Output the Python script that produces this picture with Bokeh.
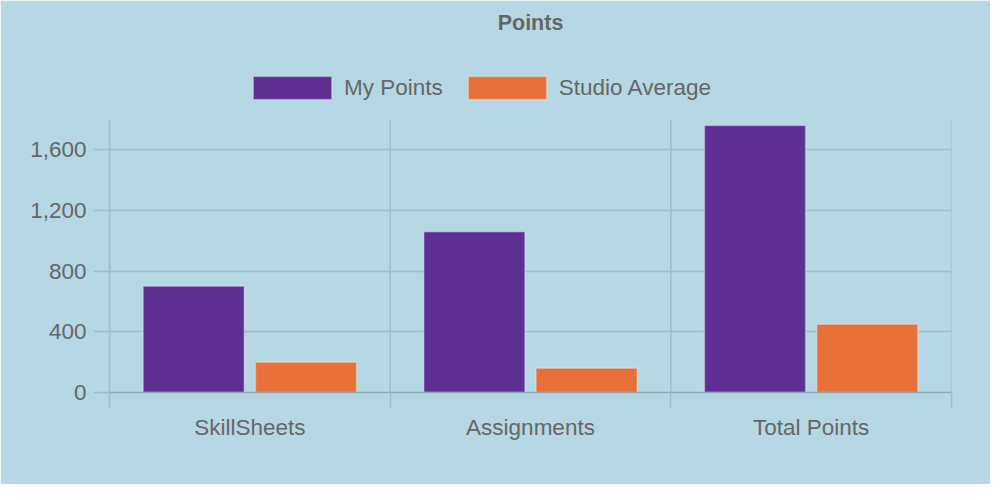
from bokeh.plotting import figure
from bokeh.models import (Range1d, FixedTicker, NumeralTickFormatter, Legend, LegendItem,
                          ColumnDataSource)
from bokeh.transform import dodge
from bokeh.embed import file_html
from bokeh.resources import INLINE

# ---- data ----
categories = ["SkillSheets", "Assignments", "Total Points"]
my_points = [700, 1060, 1760]
studio_average = [200, 160, 450]
y_ticks = [0, 400, 800, 1200, 1600]
y_max = 1800

# ---- style ----
BG = "#b5d8e4"
GRID = "#9fbcc7"
ZERO = "#8fa9b3"
TEXT = "#666666"
PURPLE = "#5e2f93"
ORANGE = "#e8703a"
FONT = "Liberation Sans"

W, H = 990, 484
FRAME_TOP = 39          # frame extends up to hold the legend
DATA_TOP = 119          # pixel row where y_max sits
FRAME_BOTTOM = 392
BORDER_LEFT, BORDER_RIGHT = 109, 39

y_top = y_max * (FRAME_BOTTOM - FRAME_TOP) / (FRAME_BOTTOM - DATA_TOP)

centers = [i + 0.5 for i in range(len(categories))]
bounds = [i for i in range(len(categories) + 1)]

src = ColumnDataSource(dict(x=centers, mine=my_points, avg=studio_average))
vsrc = ColumnDataSource(dict(x=bounds, y0=[0] * len(bounds), y1=[y_max] * len(bounds)))

p = figure(width=W, height=H, output_backend="svg", toolbar_location=None,
           x_range=Range1d(0, len(categories)), y_range=Range1d(0, y_top),
           min_border_left=BORDER_LEFT, min_border_right=BORDER_RIGHT,
           min_border_top=FRAME_TOP, min_border_bottom=H - FRAME_BOTTOM)
p.background_fill_color = BG
p.border_fill_color = BG
p.outline_line_color = BG
p.outline_line_width = 1

# vertical category-boundary grid lines, only over the data area
p.segment(x0="x", y0="y0", x1="x", y1="y1", source=vsrc, line_color=GRID, line_width=1.5)

r1 = p.vbar(x=dodge("x", -0.2, range=p.x_range), top="mine", width=0.36, source=src,
            fill_color=PURPLE, line_color="white", line_alpha=0.3, line_width=1.5)
r2 = p.vbar(x=dodge("x", 0.2, range=p.x_range), top="avg", width=0.36, source=src,
            fill_color=ORANGE, line_color="white", line_alpha=0.3, line_width=1.5)

# x axis
xa = p.xaxis[0]
xa.ticker = FixedTicker(ticks=centers, minor_ticks=bounds)
xa.major_label_overrides = {c: name for c, name in zip(centers, categories)}
xa.major_tick_out = 0
xa.major_tick_in = 0
xa.minor_tick_out = 16
xa.minor_tick_in = 0
xa.minor_tick_line_color = GRID
xa.minor_tick_line_width = 1.5
xa.axis_line_color = ZERO
xa.axis_line_width = 1.5
xa.major_label_standoff = 6
xa.major_label_text_font = FONT
xa.major_label_text_font_size = "22.5px"
xa.major_label_text_color = TEXT

# y axis
ya = p.yaxis[0]
ya.ticker = FixedTicker(ticks=y_ticks, minor_ticks=[])
ya.formatter = NumeralTickFormatter(format="0,0")
ya.bounds = (0, y_max)
ya.major_tick_out = 16
ya.major_tick_in = 0
ya.major_tick_line_color = GRID
ya.major_tick_line_width = 1.5
ya.axis_line_color = GRID
ya.axis_line_width = 1.5
ya.major_label_standoff = 7
ya.major_label_text_font = FONT
ya.major_label_text_font_size = "22.5px"
ya.major_label_text_color = TEXT

# grids
p.xgrid.grid_line_color = None
p.ygrid.grid_line_color = GRID
p.ygrid.grid_line_width = 1.5

# legend (inside the extended frame, above the data area)
legend = Legend(items=[LegendItem(label="My Points", renderers=[r1]),
                       LegendItem(label="Studio Average", renderers=[r2])],
                orientation="horizontal", location=(134, 290))
legend.glyph_width = 98
legend.glyph_height = 29
legend.label_standoff = 3
legend.spacing = 15
legend.padding = 0
legend.margin = 0
legend.background_fill_alpha = 0
legend.border_line_color = None
legend.label_text_font = FONT
legend.label_text_font_size = "22.5px"
legend.label_text_color = TEXT
legend.click_policy = "none"
p.add_layout(legend, "center")

# title
p.title.text = "Points"
p.title.align = "center"
p.title.text_font = FONT
p.title.text_font_size = "21.5px"
p.title.text_font_style = "bold"
p.title.text_color = TEXT
p.title.standoff = 10

open("out.html", "w").write(
    file_html(p, INLINE).replace("<body>", '<body style="background-color:#b5d8e4">', 1))
